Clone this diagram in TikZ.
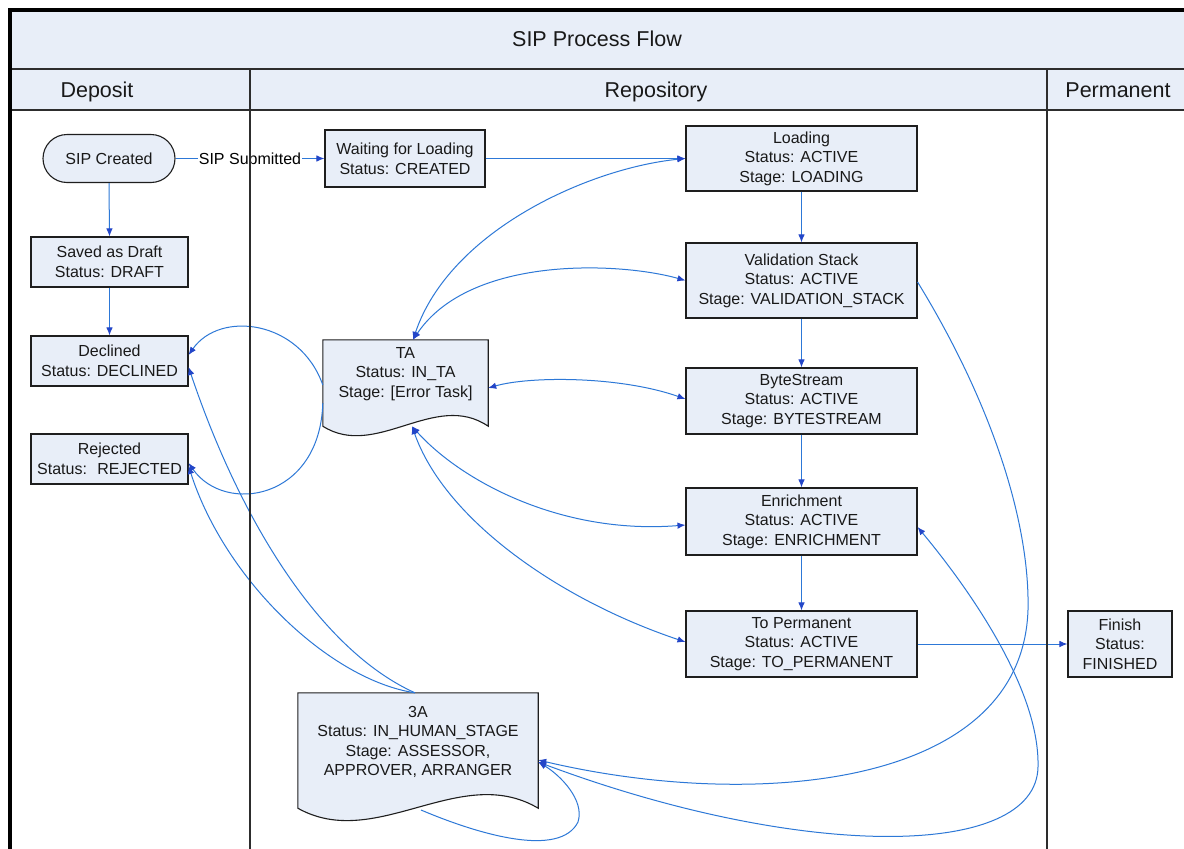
\documentclass[tikz,border=0pt]{standalone}
\usepackage{fontspec}
\setmainfont{Liberation Sans}
\usetikzlibrary{arrows.meta,calc}
\definecolor{boxfill}{RGB}{232,238,248}
\definecolor{lineblue}{RGB}{45,120,215}
\definecolor{tipblue}{RGB}{35,70,200}
\definecolor{boxline}{RGB}{30,30,30}
\definecolor{laneline}{RGB}{45,45,45}
\begin{document}
\begin{tikzpicture}[x=1pt,y=-1pt,
  nodefont/.style={font=\fontsize{16}{19.6}\selectfont},
  procbox/.style={draw=boxline, line width=1.1pt, fill=boxfill, inner sep=0pt, align=center, nodefont, text=black!90},
  doctext/.style={inner sep=0pt, align=center, nodefont, text=black!90},
  docframe/.style={draw=boxline, line width=1.1pt, fill=boxfill},
  hdr/.style={font=\fontsize{21.5}{25}\selectfont, text=black!90, anchor=base, inner sep=0pt},
  flow/.style={draw=lineblue, line width=1pt, -{Latex[length=8pt,width=6.5pt,color=tipblue]}},
  both/.style={draw=lineblue, line width=1pt, {Latex[length=8pt,width=6.5pt,color=tipblue]}-{Latex[length=8pt,width=6.5pt,color=tipblue]}},
  lane/.style={draw=laneline, line width=1.3pt}
]
\useasboundingbox (0,0) rectangle (1184,849);
\clip (0,0) rectangle (1184,849);
\fill[white] (0,0) rectangle (1184,849);
% title band and lane header row
\fill[boxfill] (10,10) rectangle (1190,110);
\node[hdr] (title) at (597,46) {SIP Process Flow};
\node[hdr] (hdep) at (97,97) {Deposit};
\node[hdr] (hrep) at (656,97) {Repository};
\node[hdr] (hper) at (1118,97) {Permanent};

% deposit lane nodes
\node[procbox, rounded corners=24pt, minimum width=132pt, minimum height=48pt] (sipc) at (109,158.5) {SIP Created};
\node[procbox, minimum width=157pt, minimum height=50pt] (draft) at (109.5,262) {Saved as Draft\\Status: DRAFT};
\node[procbox, minimum width=157pt, minimum height=50pt] (decl) at (109.5,361) {Declined\\Status: DECLINED};
\node[procbox, minimum width=157pt, minimum height=50pt] (rej) at (109.5,459) {Rejected\\Status: \ REJECTED};

% repository lane nodes
\node[procbox, minimum width=160pt, minimum height=57pt] (wait) at (405,158.5) {Waiting for Loading\\Status: CREATED};
\node[procbox, minimum width=231pt, minimum height=65pt] (load) at (801.5,158.5) {Loading\\Status: ACTIVE\\Stage: LOADING};
\node[procbox, minimum width=231pt, minimum height=75pt] (vs) at (801.5,280.5) {Validation Stack\\Status: ACTIVE\\Stage: VALIDATION\_STACK};
\node[procbox, minimum width=231pt, minimum height=66pt] (bs) at (801.5,401) {ByteStream\\Status: ACTIVE\\Stage: BYTESTREAM};
\node[procbox, minimum width=231pt, minimum height=67pt] (enr) at (801.5,521.5) {Enrichment\\Status: ACTIVE\\Stage: ENRICHMENT};
\node[procbox, minimum width=231pt, minimum height=66pt] (tp) at (801.5,644) {To Permanent\\Status: ACTIVE\\Stage: TO\_PERMANENT};

% permanent lane
\node[procbox, minimum width=104pt, minimum height=66pt] (fin) at (1120,644) {Finish\\Status:\\FINISHED};

% document shapes
\node[inner sep=0pt, minimum width=165pt, minimum height=86pt] (ta) at (405.5,383) {};
\filldraw[docframe] (ta.north west) -- (ta.north east) -- (ta.south east)
  .. controls (435,390) and (376,460) .. (ta.south west) -- cycle;
\node[doctext] (tatext) at (405.5,374) {TA\\Status: IN\_TA\\Stage: [Error Task]};

\node[inner sep=0pt, minimum width=240pt, minimum height=115pt] (tha) at (418,750.5) {};
\filldraw[docframe] (tha.north west) -- (tha.north east) -- (tha.south east)
  .. controls (460,762) and (376,852) .. (tha.south west) -- cycle;
\node[doctext] (thatext) at (418,742) {3A\\Status: IN\_HUMAN\_STAGE\\Stage: ASSESSOR,\\APPROVER, ARRANGER};

% straight connectors
\draw[flow] (sipc.east) -- node[fill=white, inner sep=1pt, nodefont] (sublbl) {SIP Submitted} (wait.west);
\draw[flow] (wait.east) -- (load.west);
\draw[flow] (sipc.south) -- (draft.north);
\draw[flow] (draft.south) -- (decl.north);
\draw[flow] (load.south) -- (vs.north);
\draw[flow] (vs.south) -- (bs.north);
\draw[flow] (bs.south) -- (enr.north);
\draw[flow] (enr.south) -- (tp.north);
\draw[flow] (tp.east) -- (fin.west);

% curved connectors around TA
\draw[both] (load.west) .. controls (590,168) and (450,230) .. (ta.north -| 413,0);
\draw[both] (vs.west) .. controls (620,262) and (470,255) .. (ta.north -| 413,0);
\draw[both] (ta.east |- 0,388) .. controls (530,376) and (620,376) .. (bs.west |- 0,399);
\draw[both] (ta.south -| 412,0) .. controls (460,480) and (560,535) .. (enr.west |- 0,525);
\draw[both] (ta.south -| 412,0) .. controls (445,520) and (560,600) .. (tp.west |- 0,642);
\draw[flow] (ta.west |- 0,385) .. controls (300,320) and (220,310) .. (decl.east |- 0,355);
\draw[flow] (ta.west |- 0,403) .. controls (320,500) and (225,515) .. (rej.east |- 0,463);

% curved connectors around 3A
\draw[flow] (tha.north -| 415,0) .. controls (320,650) and (240,520) .. (decl.east |- 0,367);
\draw[flow] (tha.north -| 415,0) .. controls (330,680) and (225,580) .. (rej.east |- 0,466);
\draw[flow] (vs.east |- 0,282) .. controls (990,400) and (1030,520) .. (1028,610)
  .. controls (1022,790) and (750,810) .. (tha.east |- 0,760);
\draw[both] (enr.east |- 0,527) .. controls (970,590) and (1040,690) .. (1038,767)
  .. controls (1036,860) and (800,860) .. (tha.east |- 0,762);
\coordinate (loopstart) at (421,810);
\draw[flow] (loopstart) .. controls (480,835) and (560,858) .. (578,822)
  .. controls (585,800) and (560,775) .. (tha.east |- 0,762);

% lane lines and frame
\draw[lane] (10,69) -- (1190,69);
\draw[lane] (10,110) -- (1190,110);
\draw[lane] (250,69) -- (250,852);
\draw[lane] (1047,69) -- (1047,852);
\draw[line width=3.5pt, black] (10,852) -- (10,10) -- (1190,10);
\end{tikzpicture}
\end{document}
